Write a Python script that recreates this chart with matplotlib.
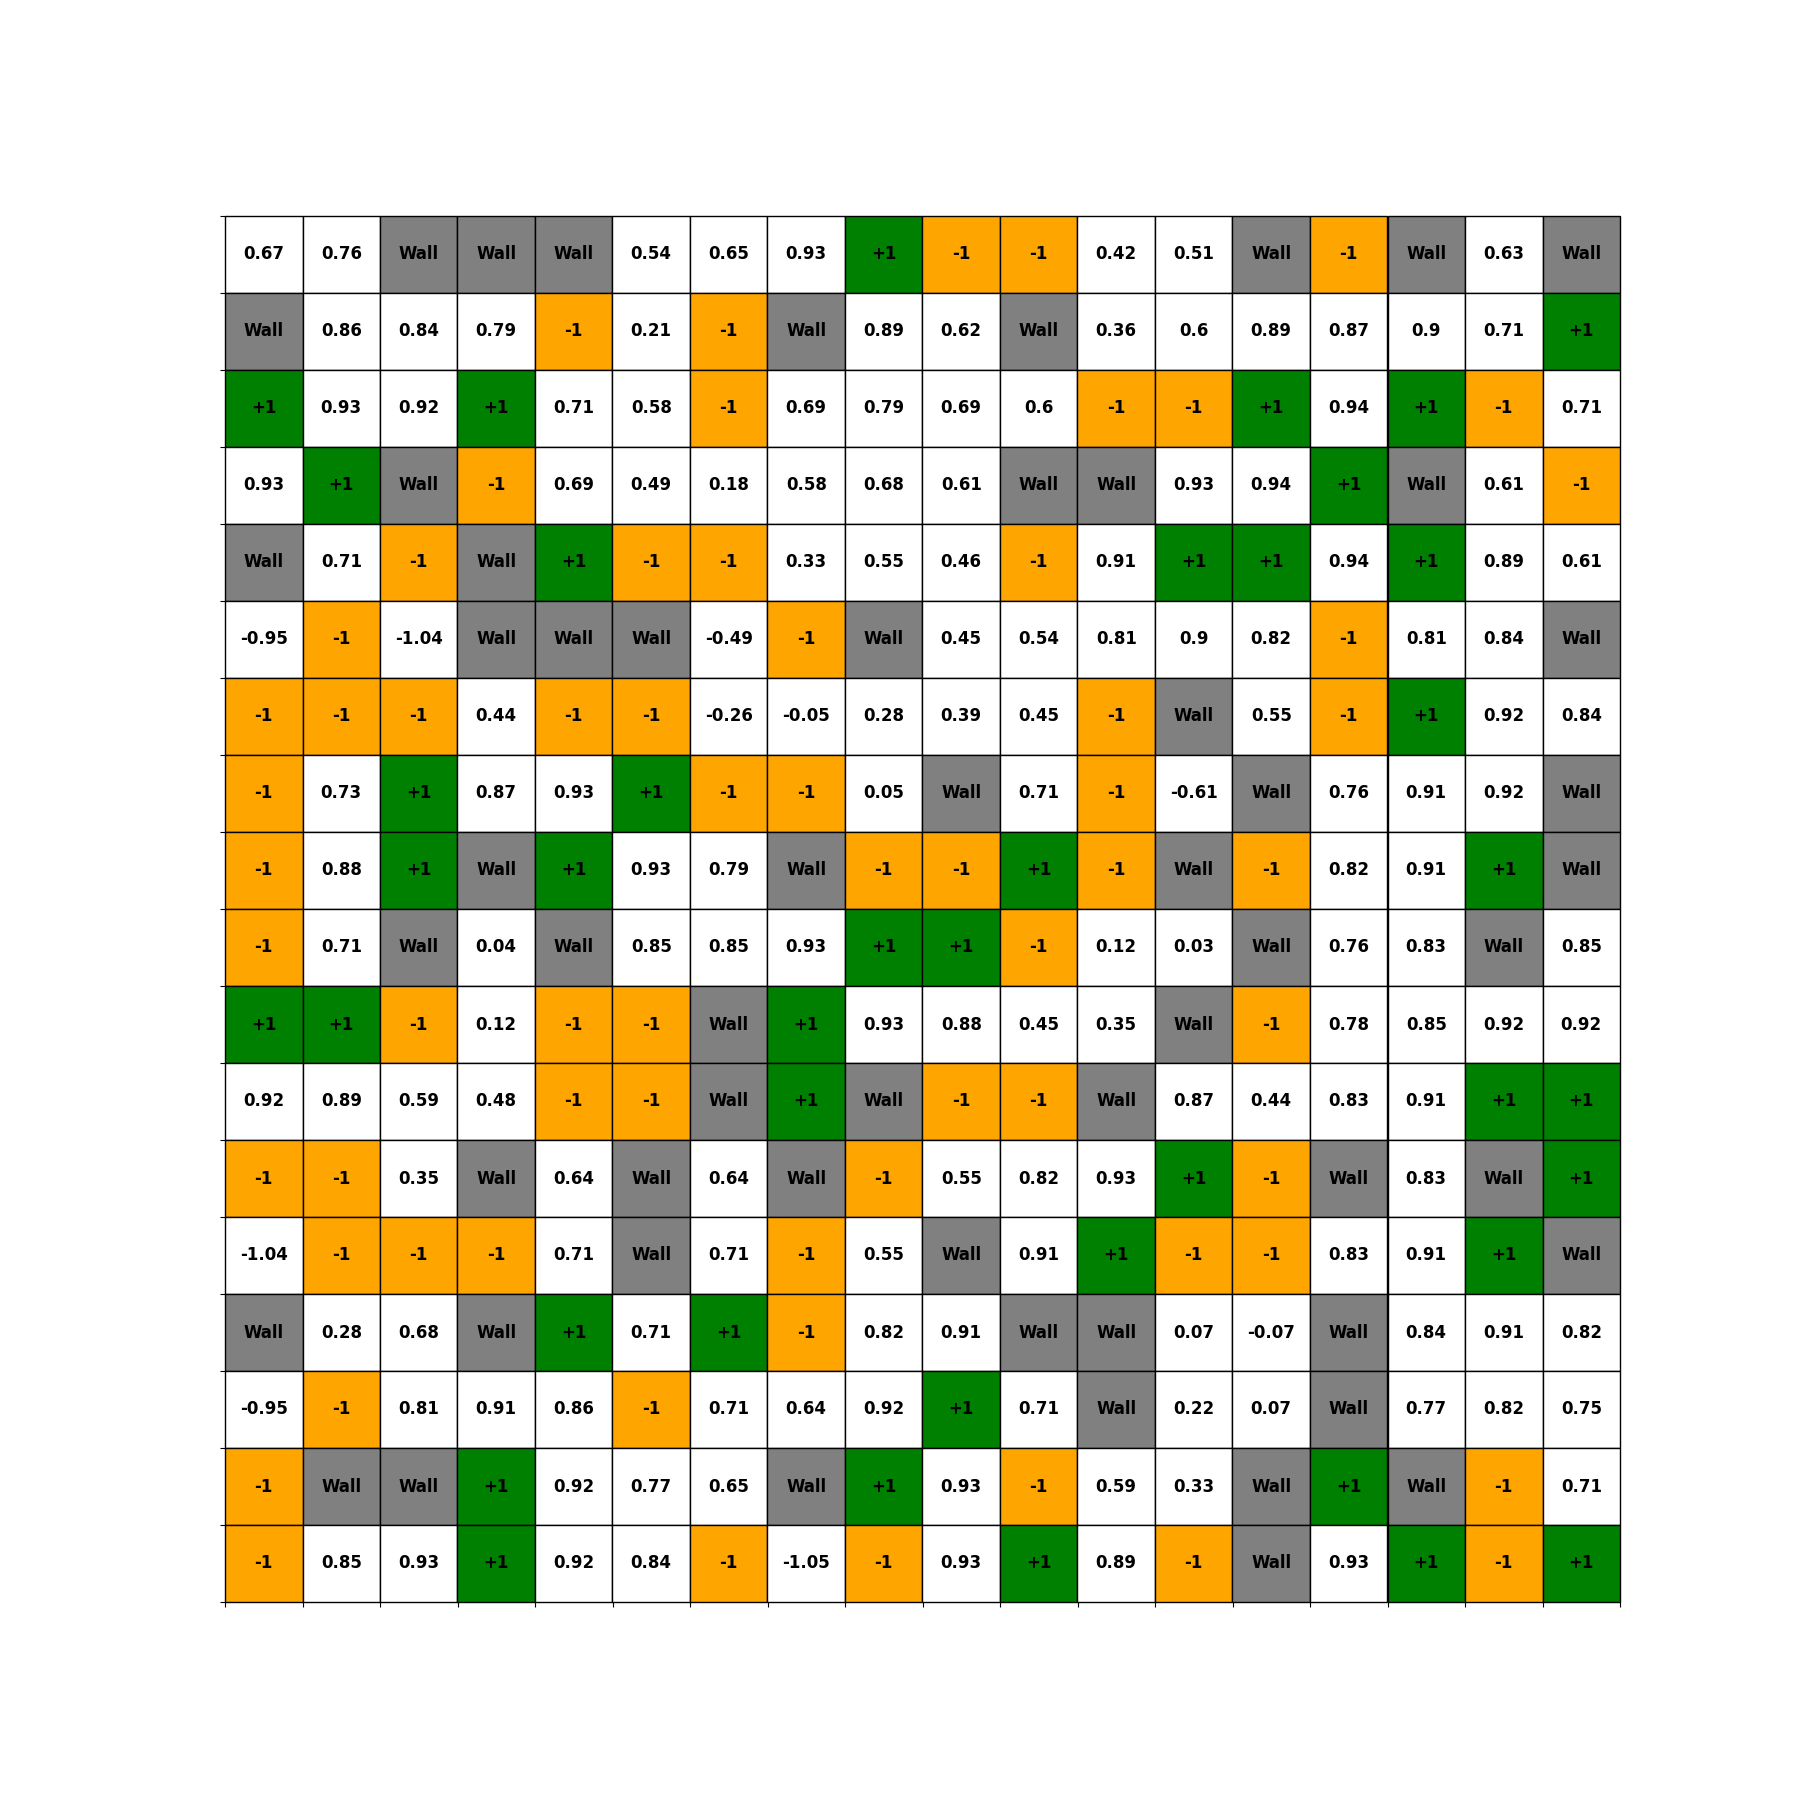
import numpy as np
import matplotlib.pyplot as plt

# grid values, top row first; "Wall", "+1", "-1" are special cells
rows = [
    "0.67 0.76 Wall Wall Wall 0.54 0.65 0.93 +1 -1 -1 0.42 0.51 Wall -1 Wall 0.63 Wall",
    "Wall 0.86 0.84 0.79 -1 0.21 -1 Wall 0.89 0.62 Wall 0.36 0.6 0.89 0.87 0.9 0.71 +1",
    "+1 0.93 0.92 +1 0.71 0.58 -1 0.69 0.79 0.69 0.6 -1 -1 +1 0.94 +1 -1 0.71",
    "0.93 +1 Wall -1 0.69 0.49 0.18 0.58 0.68 0.61 Wall Wall 0.93 0.94 +1 Wall 0.61 -1",
    "Wall 0.71 -1 Wall +1 -1 -1 0.33 0.55 0.46 -1 0.91 +1 +1 0.94 +1 0.89 0.61",
    "-0.95 -1 -1.04 Wall Wall Wall -0.49 -1 Wall 0.45 0.54 0.81 0.9 0.82 -1 0.81 0.84 Wall",
    "-1 -1 -1 0.44 -1 -1 -0.26 -0.05 0.28 0.39 0.45 -1 Wall 0.55 -1 +1 0.92 0.84",
    "-1 0.73 +1 0.87 0.93 +1 -1 -1 0.05 Wall 0.71 -1 -0.61 Wall 0.76 0.91 0.92 Wall",
    "-1 0.88 +1 Wall +1 0.93 0.79 Wall -1 -1 +1 -1 Wall -1 0.82 0.91 +1 Wall",
    "-1 0.71 Wall 0.04 Wall 0.85 0.85 0.93 +1 +1 -1 0.12 0.03 Wall 0.76 0.83 Wall 0.85",
    "+1 +1 -1 0.12 -1 -1 Wall +1 0.93 0.88 0.45 0.35 Wall -1 0.78 0.85 0.92 0.92",
    "0.92 0.89 0.59 0.48 -1 -1 Wall +1 Wall -1 -1 Wall 0.87 0.44 0.83 0.91 +1 +1",
    "-1 -1 0.35 Wall 0.64 Wall 0.64 Wall -1 0.55 0.82 0.93 +1 -1 Wall 0.83 Wall +1",
    "-1.04 -1 -1 -1 0.71 Wall 0.71 -1 0.55 Wall 0.91 +1 -1 -1 0.83 0.91 +1 Wall",
    "Wall 0.28 0.68 Wall +1 0.71 +1 -1 0.82 0.91 Wall Wall 0.07 -0.07 Wall 0.84 0.91 0.82",
    "-0.95 -1 0.81 0.91 0.86 -1 0.71 0.64 0.92 +1 0.71 Wall 0.22 0.07 Wall 0.77 0.82 0.75",
    "-1 Wall Wall +1 0.92 0.77 0.65 Wall +1 0.93 -1 0.59 0.33 Wall +1 Wall -1 0.71",
    "-1 0.85 0.93 +1 0.92 0.84 -1 -1.05 -1 0.93 +1 0.89 -1 Wall 0.93 +1 -1 +1",
]
cells = [r.split() for r in rows]
n = len(cells)

special = {"Wall": "gray", "+1": "green", "-1": "orange"}
colours = [[special.get(c, "white") for c in r] for r in cells]

fig, ax = plt.subplots(figsize=(18, 18), dpi=100)
tab = ax.table(cellText=cells, cellColours=colours, cellLoc="center",
               bbox=[0, 0, 1, 1])
tab.auto_set_font_size(False)
tab.set_fontsize(12)
for (i, j), cell in tab.get_celld().items():
    cell.set_edgecolor("black")
    cell.get_text().set_fontweight("bold")

ax.set_xlim(0, n)
ax.set_ylim(0, n)
ax.set_xticks(np.arange(n + 1))
ax.set_yticks(np.arange(n + 1))
ax.set_xticklabels([])
ax.set_yticklabels([])
for s in ax.spines.values():
    s.set_visible(False)

plt.savefig("out.png")
